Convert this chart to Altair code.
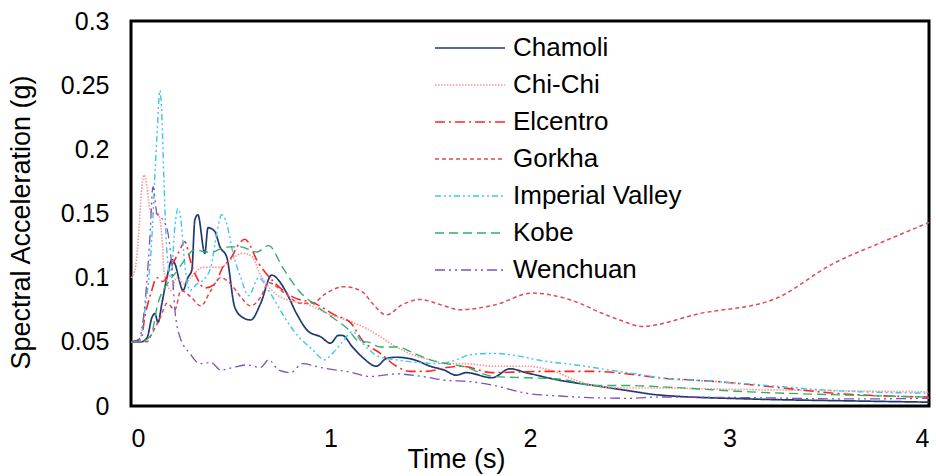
import altair as alt
import pandas as pd

# Response spectra of seven ground motions: time (s) vs spectral acceleration (g)
chamoli_t = [0, 0.05, 0.08, 0.105, 0.12, 0.135, 0.155, 0.18, 0.205, 0.22, 0.245, 0.26, 0.285, 0.305,
             0.32, 0.335, 0.37, 0.386, 0.42, 0.446, 0.48, 0.52, 0.56, 0.6, 0.65, 0.705, 0.745, 0.78,
             0.83, 0.89, 0.95, 1.0, 1.04, 1.06, 1.11, 1.16, 1.23, 1.28, 1.33, 1.42, 1.5, 1.57, 1.63,
             1.68, 1.81, 1.9, 1.98, 2.15, 2.32, 2.49, 2.65, 3.1, 3.6, 4.0]
chamoli_v = [0.05, 0.05, 0.053, 0.069, 0.072, 0.065, 0.08, 0.1, 0.114, 0.111, 0.096, 0.09, 0.1, 0.106,
             0.145, 0.149, 0.119, 0.139, 0.136, 0.124, 0.116, 0.077, 0.069, 0.067, 0.08, 0.102, 0.097,
             0.088, 0.072, 0.058, 0.054, 0.049, 0.055, 0.055, 0.046, 0.038, 0.031, 0.037, 0.038, 0.036,
             0.031, 0.028, 0.024, 0.026, 0.022, 0.029, 0.026, 0.020, 0.016, 0.012, 0.0085, 0.0055,
             0.004, 0.003]

chichi_t = [0, 0.02, 0.035, 0.055, 0.065, 0.08, 0.095, 0.11, 0.135, 0.155, 0.165, 0.18, 0.2, 0.23,
            0.27, 0.3, 0.36, 0.45, 0.5, 0.56, 0.61, 0.64, 0.72, 0.8, 0.89, 0.97, 1.06, 1.16, 1.25,
            1.33, 1.41, 1.5, 1.58, 1.67, 1.82, 1.98, 2.12, 2.23, 2.32, 2.49, 2.65, 3.0, 3.5, 4.0]
chichi_v = [0.1, 0.106, 0.127, 0.171, 0.18, 0.171, 0.153, 0.15, 0.15, 0.132, 0.106, 0.096, 0.09, 0.1,
            0.095, 0.1, 0.108, 0.108, 0.114, 0.119, 0.116, 0.105, 0.088, 0.082, 0.079, 0.073, 0.068,
            0.062, 0.054, 0.046, 0.040, 0.036, 0.033, 0.033, 0.031, 0.031, 0.027, 0.020, 0.016,
            0.014, 0.014, 0.013, 0.012, 0.011]

elcentro_t = [0, 0.05, 0.07, 0.1, 0.13, 0.16, 0.2, 0.24, 0.27, 0.3, 0.33, 0.37, 0.42, 0.46, 0.5,
              0.54, 0.57, 0.64, 0.72, 0.81, 0.92, 1.02, 1.1, 1.16, 1.25, 1.33, 1.4, 1.48, 1.58,
              1.66, 1.81, 2.07, 2.32, 2.49, 2.65, 2.94, 3.27, 3.52, 4.0]
elcentro_v = [0.05, 0.052, 0.07, 0.088, 0.1, 0.097, 0.108, 0.12, 0.128, 0.112, 0.1, 0.092, 0.095,
              0.108, 0.115, 0.126, 0.13, 0.111, 0.096, 0.085, 0.08, 0.071, 0.065, 0.051, 0.041,
              0.031, 0.027, 0.027, 0.030, 0.031, 0.026, 0.027, 0.027, 0.025, 0.022, 0.019, 0.014,
              0.010, 0.007]

gorkha_t = [0, 0.08, 0.1, 0.15, 0.18, 0.22, 0.25, 0.3, 0.35, 0.4, 0.45, 0.5, 0.55, 0.6, 0.65, 0.69,
            0.77, 0.85, 0.91, 0.97, 1.07, 1.16, 1.21, 1.28, 1.36, 1.45, 1.55, 1.65, 1.83, 2.01,
            2.15, 2.25, 2.35, 2.45, 2.56, 2.85, 3.22, 3.52, 3.77, 4.0]
gorkha_v = [0.05, 0.05, 0.055, 0.07, 0.08, 0.075, 0.09, 0.085, 0.078, 0.09, 0.1, 0.095, 0.085,
            0.078, 0.085, 0.096, 0.088, 0.08, 0.08, 0.087, 0.093, 0.089, 0.08, 0.071, 0.079, 0.083,
            0.079, 0.075, 0.079, 0.088, 0.085, 0.08, 0.073, 0.067, 0.062, 0.072, 0.083, 0.111,
            0.128, 0.143]

imperial_t = [0, 0.04, 0.07, 0.1, 0.13, 0.145, 0.155, 0.165, 0.18, 0.2, 0.22, 0.235, 0.25, 0.27,
              0.295, 0.33, 0.36, 0.4, 0.43, 0.455, 0.48, 0.51, 0.55, 0.59, 0.64, 0.69, 0.74, 0.77,
              0.84, 0.91, 0.97, 1.01, 1.06, 1.11, 1.16, 1.25, 1.33, 1.43, 1.55, 1.63, 1.7, 1.82,
              1.9, 2.07, 2.23, 2.4, 2.57, 2.65, 2.94, 3.27, 3.52, 4.0]
imperial_v = [0.05, 0.05, 0.075, 0.12, 0.21, 0.246, 0.225, 0.176, 0.12, 0.1, 0.14, 0.154, 0.145,
              0.11, 0.09, 0.095, 0.098, 0.108, 0.135, 0.149, 0.142, 0.12, 0.1, 0.086, 0.1, 0.09,
              0.077, 0.069, 0.054, 0.044, 0.036, 0.041, 0.05, 0.058, 0.049, 0.038, 0.036, 0.034,
              0.033, 0.036, 0.04, 0.041, 0.04, 0.035, 0.032, 0.028, 0.024, 0.022, 0.019, 0.015,
              0.012, 0.010]

kobe_t = [0, 0.05, 0.1, 0.135, 0.185, 0.235, 0.27, 0.32, 0.37, 0.41, 0.455, 0.5, 0.55, 0.63, 0.69,
          0.76, 0.84, 0.92, 1.01, 1.08, 1.15, 1.18, 1.25, 1.33, 1.42, 1.5, 1.58, 1.66, 1.82, 1.98,
          2.15, 2.32, 2.49, 2.65, 3.1, 3.6, 4.0]
kobe_v = [0.05, 0.05, 0.055, 0.08, 0.096, 0.106, 0.114, 0.122, 0.12, 0.12, 0.123, 0.124, 0.124,
          0.12, 0.125, 0.108, 0.09, 0.079, 0.069, 0.061, 0.05, 0.05, 0.046, 0.046, 0.041, 0.036,
          0.033, 0.031, 0.023, 0.022, 0.021, 0.016, 0.016, 0.015, 0.011, 0.0085, 0.007]

wenchuan_t = [0, 0.04, 0.07, 0.095, 0.11, 0.13, 0.16, 0.185, 0.205, 0.22, 0.245, 0.295, 0.345, 0.4,
              0.45, 0.51, 0.58, 0.65, 0.69, 0.74, 0.8, 0.86, 0.95, 1.03, 1.08, 1.2, 1.33, 1.46,
              1.58, 1.7, 1.82, 1.98, 2.15, 2.32, 2.49, 2.65, 3.1, 3.6, 4.0]
wenchuan_v = [0.05, 0.052, 0.08, 0.132, 0.171, 0.15, 0.145, 0.135, 0.108, 0.075, 0.054, 0.041,
              0.033, 0.034, 0.028, 0.030, 0.032, 0.030, 0.036, 0.028, 0.026, 0.033, 0.030, 0.028,
              0.027, 0.023, 0.025, 0.023, 0.020, 0.019, 0.016, 0.010, 0.0078, 0.0064, 0.006,
              0.007, 0.0065, 0.0055, 0.006]

series_names = ["Chamoli", "Chi-Chi", "Elcentro", "Gorkha", "Imperial Valley", "Kobe", "Wenchuan"]
series_data = [(chamoli_t, chamoli_v), (chichi_t, chichi_v), (elcentro_t, elcentro_v),
               (gorkha_t, gorkha_v), (imperial_t, imperial_v), (kobe_t, kobe_v),
               (wenchuan_t, wenchuan_v)]

series_colors = ["#1F3A73", "#FF9494", "#FF2222", "#E04A50", "#3EC6F5", "#2FB066", "#7F52B8"]
series_dashes = [[1, 0], [1.5, 1.5], [10, 4, 2, 4], [4, 3], [6, 3, 2, 3, 2, 3], [9, 5],
                 [10, 4, 2, 4, 2, 4]]
series_widths = [1.7, 1.3, 1.8, 2.0, 1.8, 2.0, 2.0]

rows = []
for name, (ts, vs) in zip(series_names, series_data):
    for t, v in zip(ts, vs):
        rows.append({"Series": name, "Time": t, "SA": v})
df = pd.DataFrame(rows)

FONT = "Liberation Sans"

legend = alt.Legend(
    title=None, orient="none", legendX=303, legendY=12,
    symbolType="stroke", symbolSize=4900, symbolStrokeWidth=2, clipHeight=30,
    labelFont=FONT, labelFontSize=26, labelColor="black", labelOffset=7, labelLimit=400,
    rowPadding=7, symbolLimit=0,
)

chart = alt.Chart(df).mark_line(interpolate="monotone").encode(
    x=alt.X("Time:Q", title="Time (s)",
            scale=alt.Scale(domain=[0, 4], nice=False),
            axis=alt.Axis(values=[0, 1, 2, 3, 4], format="d", grid=False, domain=False,
                          ticks=False, labelPadding=20, labelFont=FONT, labelFontSize=25,
                          labelColor="black", titleFont=FONT, titleFontSize=27,
                          titleFontWeight="normal", titleColor="black",
                          titleX=325, titleY=40)),
    y=alt.Y("SA:Q", title="Spectral Acceleration (g)",
            scale=alt.Scale(domain=[0, 0.3], nice=False),
            axis=alt.Axis(values=[0, 0.05, 0.1, 0.15, 0.2, 0.25, 0.3], format="~g", grid=False,
                          domain=False, ticks=False, labelPadding=22, labelFont=FONT,
                          labelFontSize=25, labelColor="black", titleFont=FONT,
                          titleFontSize=27, titleFontWeight="normal", titleColor="black",
                          titleX=-96, titleY=201)),
    color=alt.Color("Series:N", sort=series_names,
                    scale=alt.Scale(domain=series_names, range=series_colors), legend=legend),
    strokeDash=alt.StrokeDash("Series:N", sort=series_names,
                              scale=alt.Scale(domain=series_names, range=series_dashes),
                              legend=legend),
    strokeWidth=alt.StrokeWidth("Series:N", sort=series_names,
                                scale=alt.Scale(domain=series_names, range=series_widths),
                                legend=legend),
).properties(
    width=798, height=385,
    background="white",
    autosize=alt.AutoSizeParams(type="none"),
    padding={"left": 131, "top": 21, "right": 7, "bottom": 70},
).configure_view(
    stroke="black", strokeWidth=3
)

chart.save("out.html", embed_options={"renderer": "svg", "actions": False})
